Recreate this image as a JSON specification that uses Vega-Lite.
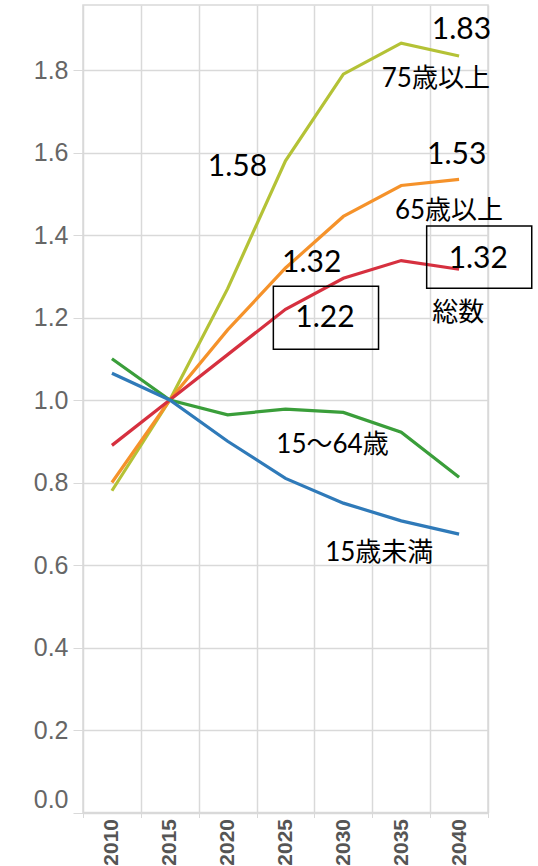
{
  "$schema": "https://vega.github.io/schema/vega-lite/v6.json",
  "width": 405,
  "height": 807.5,
  "autosize": "none",
  "padding": {"left": 83, "top": 5, "right": 50, "bottom": 53.5},
  "background": "white",
  "config": {"view": {"stroke": "#d9d9d9", "strokeWidth": 1.5}},
  "datasets": {
    "series": [
      {"year": 2010, "group": "75歳以上", "value": 0.78},
      {"year": 2015, "group": "75歳以上", "value": 1.0},
      {"year": 2020, "group": "75歳以上", "value": 1.27},
      {"year": 2025, "group": "75歳以上", "value": 1.58},
      {"year": 2030, "group": "75歳以上", "value": 1.79},
      {"year": 2035, "group": "75歳以上", "value": 1.865},
      {"year": 2040, "group": "75歳以上", "value": 1.834},
      {"year": 2010, "group": "65歳以上", "value": 0.80},
      {"year": 2015, "group": "65歳以上", "value": 1.0},
      {"year": 2020, "group": "65歳以上", "value": 1.17},
      {"year": 2025, "group": "65歳以上", "value": 1.32},
      {"year": 2030, "group": "65歳以上", "value": 1.445},
      {"year": 2035, "group": "65歳以上", "value": 1.52},
      {"year": 2040, "group": "65歳以上", "value": 1.535},
      {"year": 2010, "group": "総数", "value": 0.89},
      {"year": 2015, "group": "総数", "value": 1.0},
      {"year": 2020, "group": "総数", "value": 1.11},
      {"year": 2025, "group": "総数", "value": 1.22},
      {"year": 2030, "group": "総数", "value": 1.295},
      {"year": 2035, "group": "総数", "value": 1.338},
      {"year": 2040, "group": "総数", "value": 1.317},
      {"year": 2010, "group": "15～64歳", "value": 1.10},
      {"year": 2015, "group": "15～64歳", "value": 1.0},
      {"year": 2020, "group": "15～64歳", "value": 0.964},
      {"year": 2025, "group": "15～64歳", "value": 0.978},
      {"year": 2030, "group": "15～64歳", "value": 0.97},
      {"year": 2035, "group": "15～64歳", "value": 0.922},
      {"year": 2040, "group": "15～64歳", "value": 0.813},
      {"year": 2010, "group": "15歳未満", "value": 1.065},
      {"year": 2015, "group": "15歳未満", "value": 1.0},
      {"year": 2020, "group": "15歳未満", "value": 0.90},
      {"year": 2025, "group": "15歳未満", "value": 0.81},
      {"year": 2030, "group": "15歳未満", "value": 0.75},
      {"year": 2035, "group": "15歳未満", "value": 0.707},
      {"year": 2040, "group": "15歳未満", "value": 0.675}
    ],
    "notes": [
      {"kind": "num", "text": "1.83", "x": 2040.2, "y": 1.897},
      {"kind": "num", "text": "1.58", "x": 2020.85, "y": 1.566},
      {"kind": "num", "text": "1.53", "x": 2039.8, "y": 1.594},
      {"kind": "num", "text": "1.32", "x": 2027.26, "y": 1.332},
      {"kind": "num", "text": "1.22", "x": 2028.41, "y": 1.2},
      {"kind": "num", "text": "1.32", "x": 2041.66, "y": 1.343},
      {"kind": "label", "text": "75歳以上", "x": 2037.99, "y": 1.778},
      {"kind": "label", "text": "65歳以上", "x": 2039.13, "y": 1.458},
      {"kind": "label", "text": "総数", "x": 2039.93, "y": 1.212},
      {"kind": "label", "text": "15～64歳", "x": 2029.06, "y": 0.891},
      {"kind": "label", "text": "15歳未満", "x": 2033.1, "y": 0.630}
    ],
    "boxes": [
      {"x": 2023.95, "x2": 2033.04, "y": 1.276, "y2": 1.123},
      {"x": 2037.2, "x2": 2046.28, "y": 1.4218, "y2": 1.2708}
    ]
  },
  "resolve": {"scale": {"x": "independent"}},
  "layer": [
    {
      "data": {"name": "series"},
      "mark": {"type": "line", "strokeWidth": 3.2},
      "encoding": {
        "x": {
          "field": "year", "type": "ordinal",
          "scale": {"type": "band", "paddingInner": 0, "paddingOuter": 0},
          "axis": {
            "title": null, "tickBand": "extent", "labelAngle": -90,
            "labelFont": "Liberation Sans", "labelFontWeight": "bold", "labelFontSize": 21,
            "labelColor": "#555555", "domain": false, "tickColor": "#d9d9d9", "tickSize": 5,
            "gridColor": "#d9d9d9", "gridWidth": 1.5, "grid": true, "labelPadding": 1
          }
        },
        "y": {
          "field": "value", "type": "quantitative",
          "scale": {"domain": [0, 1.9576], "nice": false, "zero": false},
          "axis": {
            "title": null, "values": [0, 0.2, 0.4, 0.6, 0.8, 1.0, 1.2, 1.4, 1.6, 1.8],
            "format": ".1f", "labelFont": "Liberation Sans", "labelFontSize": 25,
            "labelColor": "#666666", "domain": false, "tickColor": "#d9d9d9", "tickSize": 10,
            "gridColor": "#d9d9d9", "gridWidth": 1.5, "labelPadding": 5, "labelFlush": true
          }
        },
        "color": {
          "field": "group", "type": "nominal", "legend": null,
          "scale": {
            "domain": ["75歳以上", "65歳以上", "総数", "15～64歳", "15歳未満"],
            "range": ["#b4c236", "#f5922a", "#d6303f", "#3a9e3a", "#2f7ab9"]
          }
        }
      }
    },
    {
      "mark": {"type": "rule", "color": "#7a7a7a", "strokeWidth": 3},
      "encoding": {"y": {"datum": 1, "type": "quantitative"}}
    },
    {
      "data": {"name": "boxes"},
      "mark": {"type": "rect", "fill": null, "fillOpacity": 0, "stroke": "black", "strokeWidth": 1.5},
      "encoding": {
        "x": {"field": "x", "type": "quantitative", "scale": {"domain": [2007.5, 2042.5], "nice": false, "zero": false}, "axis": null},
        "x2": {"field": "x2"},
        "y": {"field": "y", "type": "quantitative"},
        "y2": {"field": "y2"}
      }
    },
    {
      "data": {"name": "notes"},
      "transform": [{"filter": "datum.kind === 'num'"}],
      "mark": {"type": "text", "font": "Lato, Noto Sans CJK JP", "fontSize": 30, "color": "black", "align": "center", "baseline": "middle"},
      "encoding": {
        "x": {"field": "x", "type": "quantitative", "scale": {"domain": [2007.5, 2042.5], "nice": false, "zero": false}, "axis": null},
        "y": {"field": "y", "type": "quantitative"},
        "text": {"field": "text"}
      }
    },
    {
      "data": {"name": "notes"},
      "transform": [{"filter": "datum.kind === 'label'"}],
      "mark": {"type": "text", "font": "Lato, Noto Sans CJK JP", "fontSize": 26, "color": "black", "align": "center", "baseline": "middle"},
      "encoding": {
        "x": {"field": "x", "type": "quantitative", "scale": {"domain": [2007.5, 2042.5], "nice": false, "zero": false}, "axis": null},
        "y": {"field": "y", "type": "quantitative"},
        "text": {"field": "text"}
      }
    }
  ]
}
